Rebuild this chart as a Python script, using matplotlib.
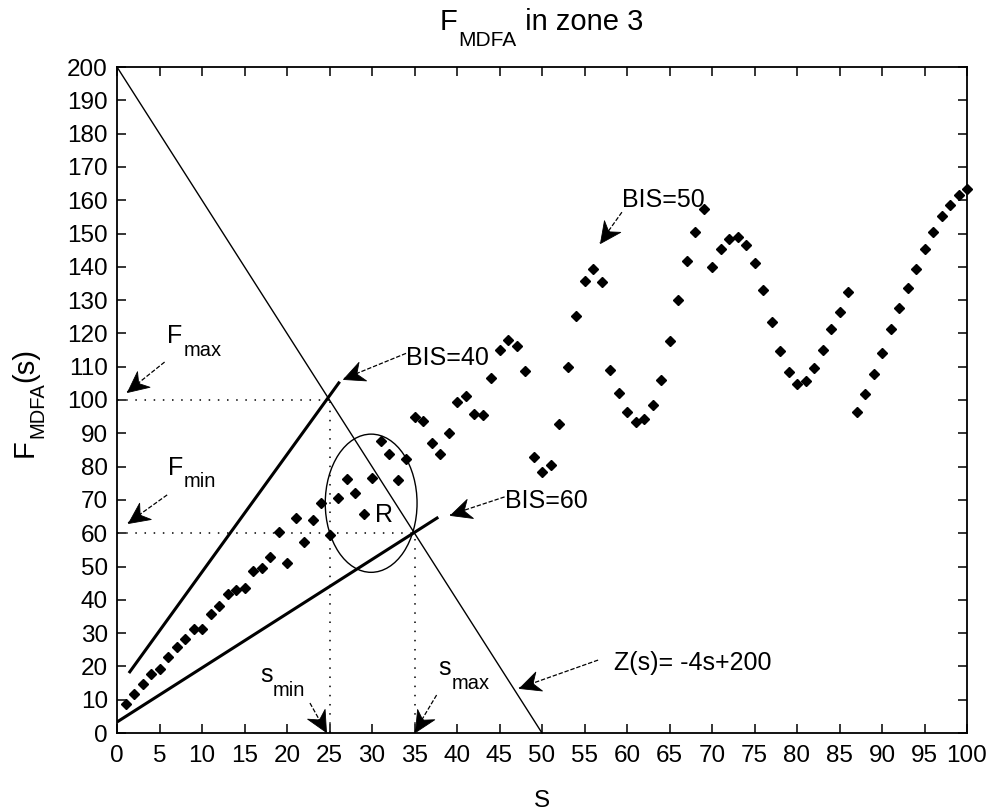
import numpy as np
import matplotlib
matplotlib.use('Agg')
import matplotlib.pyplot as plt
from matplotlib.patches import Ellipse
from matplotlib.path import Path

plt.rcParams['font.family'] = ['Liberation Sans', 'DejaVu Sans']

# ---- data ----
s = np.arange(1, 101)
F_mdfa = [8.8, 11.7, 14.7, 17.6, 19.3, 22.8, 25.9, 28.1, 31.3, 31.1,
          35.8, 38.1, 41.6, 42.8, 43.4, 48.5, 49.6, 52.9, 60.5, 51.0,
          64.5, 57.4, 64.0, 69.2, 59.4, 70.5, 76.4, 72.2, 65.9, 76.6,
          87.7, 83.7, 76.1, 82.4, 94.8, 93.6, 87.2, 83.7, 90.0, 99.3,
          101.2, 95.9, 95.4, 106.5, 115.0, 118.1, 116.1, 108.8, 82.8, 78.3,
          80.6, 92.9, 109.8, 125.1, 135.6, 139.3, 135.5, 109.0, 102.2, 96.3,
          93.5, 94.3, 98.5, 106.0, 117.8, 130.0, 141.7, 150.5, 157.5, 140.0,
          145.3, 148.2, 149.0, 146.5, 141.2, 133.0, 123.5, 114.8, 108.3, 104.8,
          105.8, 109.5, 115.0, 121.2, 126.5, 132.3, 96.5, 101.8, 107.7, 114.0,
          121.2, 127.7, 133.5, 139.3, 145.2, 150.5, 155.2, 158.7, 161.7, 163.5]

z_s = [0, 50]            # Z(s) = -4s + 200
z_F = [200, 0]
bis40_s = [1.4, 26.2]
bis40_F = [18.0, 105.5]
bis60_s = [0.0, 37.8]
bis60_F = [3.3, 64.8]
s_min, s_max = 25, 35
F_min, F_max = 60, 100
region_center = (29.9, 69.0)
region_size = (10.8, 41.5)

xticks = list(range(0, 101, 5))
yticks = list(range(0, 201, 10))

FS_TICK = 17.5
FS_ANN = 18
FS_SUB = 14.5
FS_TITLE = 21

fig = plt.figure(figsize=(9.93, 8.10), dpi=100)
ax = fig.add_axes([117 / 993, 77 / 810, 850 / 993, 666 / 810])
ax.set_xlim(0, 100)
ax.set_ylim(0, 200)

ax.plot(z_s, z_F, color='k', lw=1.0, clip_on=False)
ax.plot(bis40_s, bis40_F, color='k', lw=2.2, solid_capstyle='butt')
ax.plot(bis60_s, bis60_F, color='k', lw=2.2, solid_capstyle='butt')

dot = (0, (1, 5))
ax.plot([0, s_min], [F_max, F_max], color='k', lw=1.1, ls=dot)
ax.plot([s_min, s_min], [0, F_max], color='k', lw=1.1, ls=dot)
ax.plot([0, s_max], [F_min, F_min], color='k', lw=1.1, ls=dot)
ax.plot([s_max, s_max], [0, F_min], color='k', lw=1.1, ls=dot)

ax.add_patch(Ellipse(region_center, region_size[0], region_size[1],
                     fill=False, edgecolor='k', lw=1.0))

ax.plot(s, F_mdfa, ls='none', marker='D', ms=5.2, color='k', mec='k', clip_on=False)


def arrow(tail, head, size=30):
    ax.plot([tail[0], head[0]], [tail[1], head[1]], color='k', lw=0.9,
            ls=(0, (3.5, 1.5)), clip_on=False)
    p0 = ax.transData.transform(tail)
    p1 = ax.transData.transform(head)
    ang = np.arctan2(p1[1] - p0[1], p1[0] - p0[0])
    verts = np.array([[0, 0], [-1, 0.48], [-0.72, 0.05], [-0.72, -0.05],
                      [-1, -0.48], [0, 0]])
    c, sn = np.cos(ang), np.sin(ang)
    R = np.array([[c, -sn], [sn, c]])
    v = verts @ R.T
    m = np.abs(v).max()
    ax.plot([head[0]], [head[1]], ls='none', marker=Path(v, closed=True),
            ms=size * m, color='k', mew=0.6, clip_on=False)


arrow((5.6, 111.4), (1.2, 102.4))
arrow((5.9, 71.5), (1.3, 63.1))
arrow((22.7, 9.0), (24.6, 0.3))
arrow((37.6, 11.4), (35.0, 0.3))
arrow((56.6, 21.9), (47.3, 13.5))
arrow((34.0, 114.0), (26.6, 106.3))
arrow((45.6, 70.9), (39.2, 65.5))
arrow((59.4, 156.4), (56.8, 147.1))


def sub_text(x, y, main, sub, size, subsize, drop, after=None, transform=None):
    """main text + lowered subscript (+ optional trailing main-size text)."""
    tr = transform if transform is not None else ax.transData
    t0 = ax.text(x, y, main, fontsize=size, ha='left', va='baseline',
                 transform=tr, clip_on=False)
    dy = -drop + 0.212 * (size - subsize)
    t1 = ax.annotate(sub, xy=(1, 0), xycoords=t0, xytext=(0.6, dy),
                     textcoords='offset points', fontsize=subsize,
                     ha='left', va='bottom', annotation_clip=False)
    if after:
        ax.annotate(after, xy=(1, 0), xycoords=(t1, t0), xytext=(0.5, 0),
                    textcoords='offset points', fontsize=size,
                    ha='left', va='bottom', annotation_clip=False)


sub_text(5.9, 117.1, 'F', 'max', FS_ANN, FS_SUB, 9)
sub_text(6.0, 77.5, 'F', 'min', FS_ANN, FS_SUB, 9)
sub_text(16.8, 15.3, 's', 'min', FS_ANN, FS_SUB, 10)
sub_text(37.8, 17.4, 's', 'max', FS_ANN, FS_SUB, 10)

kw = dict(fontsize=FS_ANN, ha='left', va='baseline')
ax.text(58.5, 19.0, 'Z(s)= -4s+200', **kw)
ax.text(34.0, 110.5, 'BIS=40', **kw)
ax.text(45.6, 67.6, 'BIS=60', **kw)
ax.text(59.4, 158.0, 'BIS=50', **kw)
ax.text(30.4, 63.4, 'R', **kw)

ax.set_xticks(xticks)
ax.set_yticks(yticks)
ax.tick_params(direction='in', length=6.5, width=1.1, top=True, right=True,
               labelsize=FS_TICK)
ax.tick_params(axis='x', pad=9)
ax.tick_params(axis='y', pad=6.5)
for sp in ax.spines.values():
    sp.set_linewidth(1.3)

# title: F_MDFA in zone 3
sub_text(440 / 993, (810 - 30) / 810, 'F', 'MDFA', FS_TITLE, 15, 11,
         after=' in zone 3', transform=fig.transFigure)

ax.set_xlabel('S', fontsize=FS_TICK, labelpad=16)

# y label: F_MDFA(s), rotated
yl0 = fig.text(39 / 993, (810 - 457) / 810, 'F', fontsize=FS_TITLE,
               rotation=90, ha='right', va='bottom')
ann1 = ax.annotate('MDFA', xy=(1, 1), xycoords=yl0,
                   xytext=(7.5 - 0.212 * (FS_TITLE - 14.5), 0.6),
                   textcoords='offset points', fontsize=14.5, rotation=90,
                   ha='right', va='bottom', annotation_clip=False)
ax.annotate('(s)', xy=(1, 1), xycoords=(yl0, ann1), xytext=(0, 0.5),
            textcoords='offset points', fontsize=FS_TITLE, rotation=90,
            ha='right', va='bottom', annotation_clip=False)

fig.savefig('out.png', dpi=100)
